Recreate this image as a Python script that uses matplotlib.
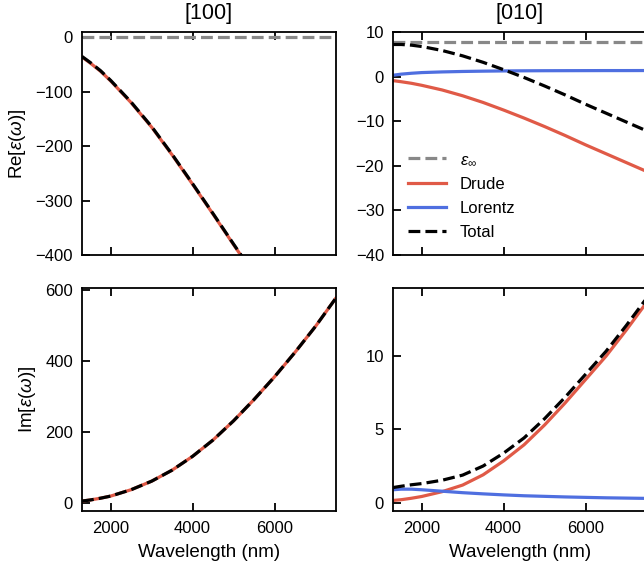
import matplotlib
matplotlib.use("Agg")
import matplotlib.pyplot as plt

plt.rcParams['font.family'] = ['Liberation Sans', 'DejaVu Sans']
plt.rcParams['mathtext.fontset'] = 'custom'
plt.rcParams['mathtext.rm'] = 'Liberation Sans'
plt.rcParams['mathtext.it'] = 'Liberation Sans:italic'

# wavelength grid (nm)
wl = [1300, 1500, 1750, 2000, 2500, 3000, 3500, 4000, 4500, 5000, 5500, 6000, 6500, 7000, 7500]

# [100] direction
einf_100 = 1.0
re_drude_100 = [-36, -47, -62, -80, -120, -165, -216, -270, -325, -381, -436, -490, -540, -588, -634]
re_total_100 = [-35, -46, -61, -79, -119, -164, -215, -269, -324, -380, -435, -489, -539, -587, -633]
im_drude_100 = [6, 9, 14, 20, 38, 62, 93, 132, 178, 232, 292, 356, 425, 498, 578]
im_total_100 = [6, 9, 14, 20, 38, 62, 93, 132, 178, 232, 292, 356, 425, 498, 578]

# [010] direction
einf_010 = 7.8
re_drude_010 = [-0.9, -1.15, -1.5, -1.95, -3.0, -4.3, -5.8, -7.5, -9.3, -11.2, -13.2, -15.3, -17.3, -19.3, -21.3]
re_lorentz_010 = [0.3, 0.55, 0.75, 0.9, 1.05, 1.15, 1.22, 1.27, 1.3, 1.32, 1.33, 1.34, 1.35, 1.35, 1.36]
re_total_010 = [7.2, 7.2, 7.05, 6.75, 5.85, 4.65, 3.2, 1.55, -0.2, -2.1, -4.1, -6.2, -8.2, -10.2, -12.2]
im_drude_010 = [0.15, 0.2, 0.3, 0.42, 0.75, 1.2, 1.9, 2.85, 3.95, 5.3, 6.8, 8.4, 10.0, 11.8, 13.7]
im_lorentz_010 = [0.88, 0.92, 0.92, 0.88, 0.78, 0.68, 0.6, 0.53, 0.47, 0.43, 0.39, 0.36, 0.33, 0.31, 0.29]
im_total_010 = [1.03, 1.12, 1.22, 1.3, 1.53, 1.88, 2.5, 3.38, 4.42, 5.73, 7.19, 8.76, 10.33, 12.11, 13.99]

c_inf = '#888888'
c_drude = '#e05a47'
c_lor = '#4f6fe0'

fig = plt.figure(figsize=(6.44, 5.68), dpi=100)
w, h = 254 / 644, 223 / 568
ax_re100 = fig.add_axes([82 / 644, 1 - 255 / 568, w, h])
ax_re010 = fig.add_axes([393 / 644, 1 - 255 / 568, w, h])
ax_im100 = fig.add_axes([82 / 644, 1 - 511 / 568, w, h])
ax_im010 = fig.add_axes([393 / 644, 1 - 511 / 568, w, h])

lw = 2.3

# Re, [100]
ax_re100.axhline(einf_100, color=c_inf, ls='--', lw=lw)
ax_re100.plot(wl, re_drude_100, color=c_drude, lw=lw)
ax_re100.plot(wl, re_total_100, color='black', ls='--', lw=lw)
ax_re100.set_ylim(-400, 10)
ax_re100.set_title('[100]', fontsize=15.5, pad=9)
ax_re100.set_ylabel(r'Re[$\varepsilon(\omega)$]', fontsize=13.5, labelpad=5)

# Re, [010]
ax_re010.axhline(einf_010, color=c_inf, ls='--', lw=lw, label=r'$\varepsilon_\infty$')
ax_re010.plot(wl, re_drude_010, color=c_drude, lw=lw, label='Drude')
ax_re010.plot(wl, re_lorentz_010, color=c_lor, lw=lw, label='Lorentz')
ax_re010.plot(wl, re_total_010, color='black', ls='--', lw=lw, label='Total')
ax_re010.set_ylim(-40, 10)
ax_re010.set_title('[010]', fontsize=15.5, pad=9)
ax_re010.legend(loc='lower left', frameon=False, fontsize=12,
                handlelength=2.3, labelspacing=0.55)

# Im, [100]
ax_im100.plot(wl, im_drude_100, color=c_drude, lw=lw)
ax_im100.plot(wl, im_total_100, color='black', ls='--', lw=lw)
ax_im100.set_ylim(-22, 606)
ax_im100.set_yticks([0, 200, 400, 600])
ax_im100.set_ylabel(r'Im[$\varepsilon(\omega)$]', fontsize=13.5, labelpad=5)

# Im, [010]
ax_im010.plot(wl, im_drude_010, color=c_drude, lw=lw)
ax_im010.plot(wl, im_lorentz_010, color=c_lor, lw=lw)
ax_im010.plot(wl, im_total_010, color='black', ls='--', lw=lw)
ax_im010.set_ylim(-0.57, 14.65)
ax_im010.set_yticks([0, 5, 10])

for ax in [ax_re100, ax_re010, ax_im100, ax_im010]:
    ax.set_xlim(1300, 7500)
    ax.set_xticks([2000, 4000, 6000])
    ax.tick_params(direction='in', top=True, length=6, width=1.3, labelsize=12)
    ax.tick_params(axis='x', pad=7)
    ax.tick_params(axis='y', pad=6.5)
    for sp in ax.spines.values():
        sp.set_linewidth(1.3)

for ax in [ax_re100, ax_re010]:
    ax.tick_params(labelbottom=False)

for ax in [ax_im100, ax_im010]:
    ax.set_xlabel('Wavelength (nm)', fontsize=13.5, labelpad=6)

fig.savefig('out.png', dpi=100)
